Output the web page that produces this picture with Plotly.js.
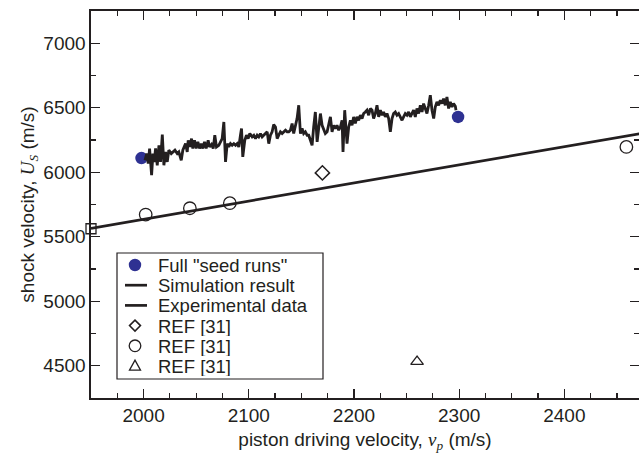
<!DOCTYPE html>
<html>
<head>
<meta charset="utf-8">
<script src="https://cdn.plot.ly/plotly-3.0.1.min.js"></script>
<style>html,body{margin:0;padding:0;background:#fff;}#chart{width:639px;height:457px;}</style>
</head>
<body>
<div id="chart"></div>
<script>
// Full "seed runs"
const seedX = [1998, 2299];
const seedY = [6110, 6429];

// Simulation result (jagged curve)
const simX = [2001.3,2003,2004.4,2005.7,2007.6,2008.9,2010.1,2011.4,2013,2014.6,2016.1,2017.8,2019.3,2020.9,2022.5,2024,2026.3,2027.9,2029.8,2032,2033.5,2035.8,2037.3,2039.9,2041.5,2042.4,2044,2045.6,2046.8,2048.4,2050,2051.6,2053.2,2054.8,2056.3,2057.9,2059.5,2061.4,2062.7,2064.6,2066.2,2067.7,2069.3,2071.5,
2074.7,2076.3,2077.9,2079.5,2081,2082.6,2084.2,2085.8,2087.4,2089,2090.5,2092.1,2093.1,2094.3,2096.2,2097.8,2099.4,2101,2103.2,2104.8,2106.4,2108,2109.5,2111.1,2112.7,2114.2,2115.9,2117.5,2119,2120.6,2122.2,2123.7,2125.4,2127,2128.5,2130.1,2131.7,2133.2,2134.9,2136.5,2138,2139.6,2141.2,2142.7,2144.3,2145.9,2147.5,
2149.1,2150.7,2152.2,2153.8,2155.5,2157,2158.6,2160.2,2161.7,2163.3,2165,2166.5,2168.1,2169.7,2171.2,2172.8,2174.5,2176,2177.6,2179.2,2180.7,2182.3,2183.9,2185.5,2187.1,2188.7,2189.6,2191.2,2193.4,2195,2196.6,2198.2,2199.7,2201.3,2202.9,2204.5,2206.1,2207.7,2209.2,2210.8,2212.4,2214,2215.6,2217.2,2218.7,2220.3,2221.9,
2223.5,2225.1,2226.7,2228.2,2229.8,2231.4,2233,2234.6,2236.2,2237.7,2239.3,2240.9,2242.5,2244.1,2245.7,2247.2,2248.8,2250.4,2252,2253.6,2255.2,2256.7,2258.3,2259.9,2261.5,2263.1,2264.7,2266.2,2267.8,2269.4,2271,2272.6,2274.2,2275.8,2277.3,2278.9,2280.5,2282.1,2283.7,2285.2,2286.8,2288.4,2290,2291.6,2293.2,2294.7,2296.4,2297];
const simY = [6093,6145,6067,6184,5977,6145,6080,6184,6054,6209,6080,6292,6054,6157,6080,6171,6145,6157,6171,6145,6157,6093,6171,6222,6157,6248,6196,6261,6184,6248,6184,6235,6184,6222,6184,6235,6184,6248,6196,6215,6184,6287,6196,6209,
6261,6390,6080,6222,6196,6222,6209,6222,6209,6222,6196,6287,6339,6119,6248,6287,6261,6300,6274,6287,6261,6287,6274,6300,6274,6287,6300,6313,6222,6287,6313,6370,6351,6261,6287,6313,6300,6313,6326,6313,6313,6326,6378,6300,6351,6416,6519,
6300,6339,6300,6313,6287,6287,6248,6209,6351,6467,6235,6351,6455,6364,6326,6300,6313,6378,6429,6313,6364,6339,6364,6326,6351,6403,6157,6481,6222,6351,6403,6364,6429,6378,6429,6403,6442,6416,6455,6467,6481,6442,6494,6481,6416,6455,6519,
6429,6481,6442,6467,6429,6455,6416,6313,6416,6455,6467,6442,6455,6429,6403,6429,6455,6442,6467,6429,6455,6481,6429,6494,6455,6519,6467,6532,6494,6455,6519,6597,6481,6416,6506,6545,6519,6558,6532,6571,6519,6584,6494,6545,6506,6532,6512,6481];

// Experimental data (linear fit)
const expX = [1950, 2480];
const expY = [5565, 6311];

// REF [31] sets
const diamondX = [2170];
const diamondY = [5995];
const circleX = [2002, 2044, 2082, 2459];
const circleY = [5672, 5721, 5760, 6196];
const triangleX = [2260];
const triangleY = [4532];
const squareX = [1950];
const squareY = [5562];

// legend labels
const legendLabels = ['Full "seed runs"', 'Simulation result', 'Experimental data', 'REF [31]', 'REF [31]', 'REF [31]'];

const ink = '#231f20';
const blue = '#2e3192';
const font = 'Liberation Sans, Arial, sans-serif';

const traces = [
  {x: seedX, y: seedY, mode: 'markers', name: legendLabels[0],
   marker: {color: blue, size: 12.5, symbol: 'circle'}},
  {x: simX, y: simY, mode: 'lines', name: legendLabels[1],
   line: {color: ink, width: 2.8}},
  {x: expX, y: expY, mode: 'lines', name: legendLabels[2],
   line: {color: ink, width: 2.7}},
  {x: diamondX, y: diamondY, mode: 'markers', name: legendLabels[3],
   marker: {symbol: 'diamond-open', size: 11, color: ink, line: {width: 1.5, color: ink}}},
  {x: circleX, y: circleY, mode: 'markers', name: legendLabels[4],
   marker: {symbol: 'circle-open', size: 12.5, color: ink, line: {width: 1.3, color: ink}}},
  {x: triangleX, y: triangleY, mode: 'markers', name: legendLabels[5],
   marker: {symbol: 'triangle-up-open', size: 11, color: ink, line: {width: 1.3, color: ink}}},
  {x: squareX, y: squareY, mode: 'markers', name: 'square',
   marker: {symbol: 'square-open', size: 10, color: ink, line: {width: 1.3, color: ink}}, cliponaxis: false}
];

// ---- hand-made legend (layout only) ----
const L = 91, T = 11, W = 548, H = 387;
const px = v => (v - L) / W;
const py = v => (T + H - v) / H;
const rowsY = [265, 285.2, 305.4, 325.6, 345.8, 366];
const symX = px(135), textX = px(157);

const shapes = [
  {type: 'rect', xref: 'paper', yref: 'paper', x0: px(117), x1: px(323), y0: py(379), y1: py(253),
   line: {color: ink, width: 1.2}, fillcolor: '#fff', layer: 'above'},
  {type: 'circle', xref: 'paper', yref: 'paper', xsizemode: 'pixel', ysizemode: 'pixel',
   xanchor: symX, yanchor: py(rowsY[0]), x0: -6.2, x1: 6.2, y0: -6.2, y1: 6.2,
   fillcolor: blue, line: {color: blue, width: 0}, layer: 'above'},
  {type: 'line', xref: 'paper', yref: 'paper', x0: px(125), x1: px(147), y0: py(rowsY[1]), y1: py(rowsY[1]),
   line: {color: ink, width: 2.7}, layer: 'above'},
  {type: 'line', xref: 'paper', yref: 'paper', x0: px(125), x1: px(147), y0: py(rowsY[2]), y1: py(rowsY[2]),
   line: {color: ink, width: 2.7}, layer: 'above'},
  {type: 'path', xref: 'paper', yref: 'paper', xsizemode: 'pixel', ysizemode: 'pixel',
   xanchor: symX, yanchor: py(rowsY[3]), path: 'M0,5.5L5.5,0L0,-5.5L-5.5,0Z',
   line: {color: ink, width: 1.5}, layer: 'above'},
  {type: 'circle', xref: 'paper', yref: 'paper', xsizemode: 'pixel', ysizemode: 'pixel',
   xanchor: symX, yanchor: py(rowsY[4]), x0: -5.8, x1: 5.8, y0: -5.8, y1: 5.8,
   line: {color: ink, width: 1.3}, layer: 'above'},
  {type: 'path', xref: 'paper', yref: 'paper', xsizemode: 'pixel', ysizemode: 'pixel',
   xanchor: symX, yanchor: py(rowsY[5]), path: 'M-5.5,-4.2L5.5,-4.2L0,5.8Z',
   line: {color: ink, width: 1.3}, layer: 'above'}
];

const annotations = legendLabels.map((t, i) => ({
  text: t, xref: 'paper', yref: 'paper', x: textX, y: py(rowsY[i]),
  xanchor: 'left', yanchor: 'middle', showarrow: false, height: 20, valign: 'middle',
  borderpad: 0,
  font: {family: font, size: 18.5, color: ink}
}));

const axisCommon = {
  showline: true, linecolor: ink, linewidth: 1.6, mirror: 'ticks',
  ticks: 'inside', ticklen: 9, tickwidth: 1.2, tickcolor: ink,
  showgrid: false, zeroline: false,
  tickfont: {family: font, size: 19, color: ink},
  minor: {ticks: 'inside', ticklen: 5, tickwidth: 1.2, tickcolor: ink, showgrid: false}
};

const layout = {
  width: 639, height: 457,
  margin: {l: L, r: 0, t: T, b: 457 - T - H},
  paper_bgcolor: '#fff', plot_bgcolor: '#fff',
  showlegend: false,
  shapes: shapes,
  annotations: annotations,
  xaxis: Object.assign({}, axisCommon, {
    range: [1950, 2471], tickvals: [2000, 2100, 2200, 2300, 2400],
    minor: Object.assign({}, axisCommon.minor, {dtick: 25, tick0: 1950}),
    title: {text: 'piston driving velocity, <span style="font-family:Liberation Serif"><i>v<sub>p</sub></i></span> (m/s)',
            font: {family: font, size: 19, color: ink}, standoff: 7}
  }),
  yaxis: Object.assign({}, axisCommon, {
    range: [4250, 7250], tickvals: [4500, 5000, 5500, 6000, 6500, 7000],
    minor: Object.assign({}, axisCommon.minor, {dtick: 250, tick0: 4250}),
    title: {text: 'shock velocity, <span style="font-family:Liberation Serif"><i>U<sub>S</sub></i></span> (m/s)',
            font: {family: font, size: 19, color: ink}, standoff: 3}
  })
};

Plotly.newPlot('chart', traces, layout, {displayModeBar: false, staticPlot: true});
</script>
</body>
</html>
